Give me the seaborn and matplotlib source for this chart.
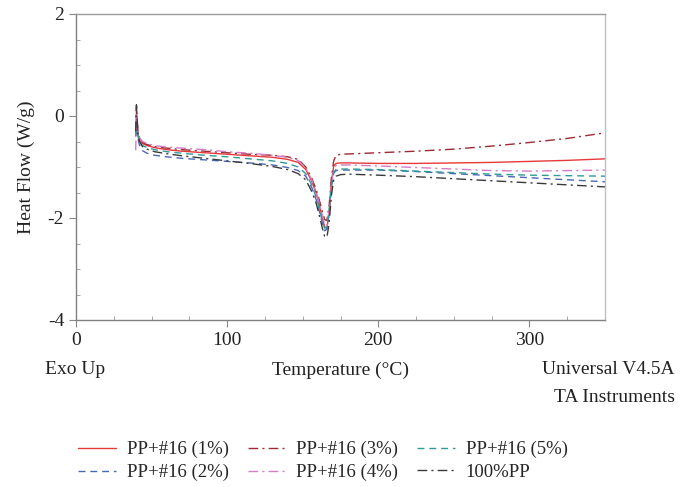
import numpy as np
import pandas as pd
import matplotlib
matplotlib.use("Agg")
import matplotlib.pyplot as plt
import seaborn as sns
from matplotlib.ticker import MultipleLocator

# ---- data ----
temperature = [39.5, 40, 41, 42, 44, 47, 52, 60, 70, 85, 100, 115, 130, 140, 147,
               152, 156, 159, 161, 163, 164.5, 166, 167.5, 169, 170.5, 172, 175, 180,
               200, 225, 250, 275, 300, 325, 350]

pp16_1 = [-0.30, 0.10, -0.36, -0.46, -0.54, -0.58, -0.62, -0.66, -0.69, -0.72, -0.75, -0.78, -0.81, -0.85, -0.91,
          -1.05, -1.28, -1.52, -1.75, -2.00, -2.17, -2.20, -1.90, -1.30, -0.98, -0.93, -0.92, -0.92,
          -0.93, -0.93, -0.92, -0.91, -0.89, -0.87, -0.84]
pp16_2 = [-0.40, -0.20, -0.45, -0.57, -0.68, -0.73, -0.77, -0.80, -0.83, -0.86, -0.89, -0.92, -0.96, -1.01, -1.07,
          -1.18, -1.40, -1.65, -1.87, -2.10, -2.25, -2.22, -1.90, -1.40, -1.12, -1.07, -1.06, -1.06,
          -1.06, -1.09, -1.13, -1.17, -1.21, -1.25, -1.29]
pp16_3 = [-0.30, 0.18, -0.34, -0.44, -0.52, -0.56, -0.60, -0.63, -0.66, -0.69, -0.72, -0.75, -0.77, -0.80, -0.85,
          -1.00, -1.22, -1.45, -1.65, -1.88, -2.03, -2.05, -1.75, -1.20, -0.88, -0.77, -0.75, -0.745,
          -0.72, -0.69, -0.65, -0.59, -0.52, -0.44, -0.33]
pp16_4 = [-0.67, 0.05, -0.33, -0.42, -0.50, -0.54, -0.58, -0.61, -0.63, -0.66, -0.70, -0.73, -0.77, -0.81, -0.87,
          -1.02, -1.25, -1.50, -1.72, -1.95, -2.12, -2.15, -1.85, -1.35, -1.05, -0.97, -0.96, -0.96,
          -0.98, -1.01, -1.04, -1.07, -1.08, -1.07, -1.06]
pp16_5 = [-0.40, -0.13, -0.40, -0.50, -0.58, -0.62, -0.66, -0.70, -0.73, -0.77, -0.80, -0.84, -0.88, -0.93, -1.00,
          -1.13, -1.35, -1.60, -1.82, -2.07, -2.20, -2.18, -1.85, -1.35, -1.10, -1.05, -1.04, -1.04,
          -1.05, -1.08, -1.11, -1.14, -1.16, -1.17, -1.18]
pp100 = [-0.30, 0.22, -0.38, -0.50, -0.60, -0.65, -0.70, -0.74, -0.78, -0.83, -0.88, -0.93, -0.99, -1.05, -1.13,
         -1.25, -1.48, -1.72, -1.95, -2.20, -2.36, -2.38, -2.10, -1.55, -1.25, -1.18, -1.15, -1.14,
         -1.16, -1.19, -1.23, -1.27, -1.31, -1.35, -1.39]

series_names = ["PP+#16 (1%)", "PP+#16 (2%)", "PP+#16 (3%)", "PP+#16 (4%)", "PP+#16 (5%)", "100%PP"]
series_values = [pp16_1, pp16_2, pp16_3, pp16_4, pp16_5, pp100]

colors = {"PP+#16 (1%)": "#e8393a", "PP+#16 (2%)": "#4a68b8", "PP+#16 (3%)": "#9e2a33",
          "PP+#16 (4%)": "#d57cc8", "PP+#16 (5%)": "#2f9c98", "100%PP": "#3a3a3a"}
dashes = {"PP+#16 (1%)": "", "PP+#16 (2%)": (5, 3.5), "PP+#16 (3%)": (7, 3, 1.5, 3),
          "PP+#16 (4%)": (7, 3, 1.5, 3), "PP+#16 (5%)": (5, 3.5), "100%PP": (7, 3, 1.5, 3)}

rows = []
for name, vals in zip(series_names, series_values):
    for t, v in zip(temperature, vals):
        rows.append({"Temperature": t, "HeatFlow": v, "Sample": name})
df = pd.DataFrame(rows)

sns.set_style("white")
plt.rcParams["font.family"] = ["Liberation Serif", "DejaVu Serif"]
plt.rcParams["axes.unicode_minus"] = False

FS = 14

fig = plt.figure(figsize=(6.8, 4.87), dpi=100)
ax = fig.add_axes([76 / 680, 1 - 320 / 487, (605 - 76) / 680, (320 - 14) / 487])

sns.lineplot(data=df, x="Temperature", y="HeatFlow", hue="Sample", style="Sample",
             hue_order=series_names, style_order=series_names,
             palette=colors, dashes=dashes, estimator=None, sort=False,
             linewidth=1.0, ax=ax, legend="full")

ax.set_xlim(0, 350)
ax.set_ylim(-4, 2)
ax.xaxis.set_major_locator(MultipleLocator(100))
ax.xaxis.set_minor_locator(MultipleLocator(25))
ax.yaxis.set_major_locator(MultipleLocator(2))
ax.yaxis.set_minor_locator(MultipleLocator(0.5))
ax.tick_params(which="major", direction="out", length=5, width=0.8, color="#888888",
               labelsize=FS, labelcolor="#222222", left=True, bottom=True)
ax.tick_params(which="minor", direction="in", length=3, width=0.6, color="#999999",
               left=True, bottom=True)
ax.set_xlabel("")
ax.set_ylabel("Heat Flow (W/g)", fontsize=FS, color="#222222", labelpad=9)
for side, col in [("left", "#808080"), ("bottom", "#808080"), ("top", "#9a9a9a"), ("right", "#c0c0c0")]:
    ax.spines[side].set_color(col)
    ax.spines[side].set_linewidth(1.0)

handles, labels = ax.get_legend_handles_labels()
ax.get_legend().remove()
fig.legend(handles, labels, ncol=3, frameon=False, fontsize=13.5,
           loc="center", bbox_to_anchor=(323 / 680, 1 - 461 / 487),
           handlelength=2.0, handletextpad=0.6, columnspacing=1.0, labelspacing=0.3)

fig.text(45 / 680, 1 - 370 / 487, "Exo Up", fontsize=FS, va="center", ha="left", color="#222222")
fig.text(341 / 680, 1 - 370 / 487, "Temperature (°C)", fontsize=FS, va="center", ha="center", color="#222222")
fig.text(675 / 680, 1 - 370 / 487, "Universal V4.5A", fontsize=FS, va="center", ha="right", color="#222222")
fig.text(675 / 680, 1 - 397 / 487, "TA Instruments", fontsize=FS, va="center", ha="right", color="#222222")

fig.savefig("out.png", dpi=100)
